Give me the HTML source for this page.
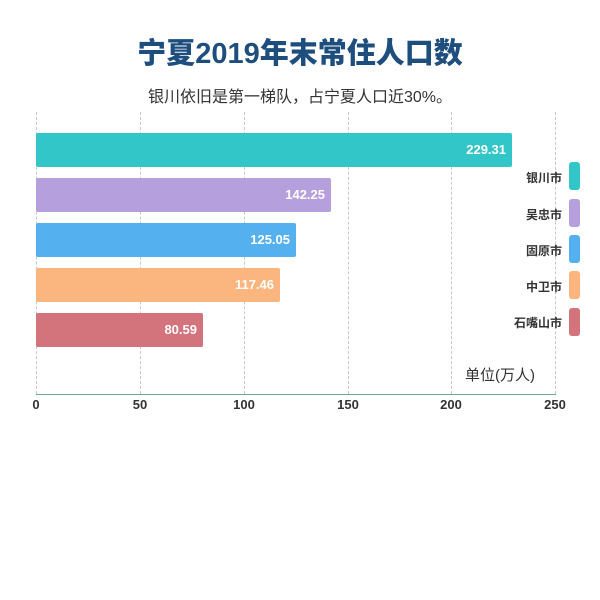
<!DOCTYPE html>
<html><head><meta charset="utf-8"><style>
body{margin:0;width:600px;height:600px;background:#fff;position:relative;overflow:hidden;font-family:"Liberation Sans","Noto Sans CJK SC",sans-serif}
.a{position:absolute}
.bar{position:absolute;left:36px;height:34px;border-radius:2px;color:#fff;font-weight:bold;font-size:13px;line-height:34px;text-align:right;box-sizing:border-box;padding-right:6px}
.grid{position:absolute;top:112px;height:282px;border-left:1px dashed #c8c8c8;width:0}
.tick{position:absolute;top:397px;font-size:13px;font-weight:bold;color:#333;width:40px;margin-left:-20px;text-align:center}
.lg{position:absolute;left:569px;width:11px;height:28px;border-radius:3px}
.lt{position:absolute;right:38px;font-size:12px;font-weight:bold;color:#333}
</style></head><body>
<div class="a" style="left:0;width:600px;top:30px;text-align:center;font-size:29px;font-weight:900;color:#1d4e7e;letter-spacing:0px">宁夏2019年末常住人口数</div>
<div class="a" style="left:0;width:600px;top:83px;text-align:center;font-size:16px;color:#333">银川依旧是第一梯队，占宁夏人口近30%。</div>
<div class="grid" style="left:36px"></div><div class="grid" style="left:140px"></div><div class="grid" style="left:244px"></div><div class="grid" style="left:348px"></div><div class="grid" style="left:451px"></div><div class="grid" style="left:555px"></div>
<div class="a" style="left:36px;width:520px;top:394px;height:1px;background:#6aa6a6"></div>
<div class="bar" style="top:133px;width:476px;background:#33c6c9">229.31</div>
<div class="bar" style="top:178px;width:295px;background:#b59fdc">142.25</div>
<div class="bar" style="top:223px;width:260px;background:#55b0ef">125.05</div>
<div class="bar" style="top:268px;width:244px;background:#fbb680">117.46</div>
<div class="bar" style="top:313px;width:167px;background:#d3737b">80.59</div>
<div class="tick" style="left:36px">0</div><div class="tick" style="left:140px">50</div><div class="tick" style="left:244px">100</div><div class="tick" style="left:348px">150</div><div class="tick" style="left:451px">200</div><div class="tick" style="left:555px">250</div>
<div class="a" style="left:465px;top:364px;font-size:15px;color:#333">单位(万人)</div>
<div class="lg" style="top:162px;background:#33c6c9"></div><div class="lt" style="top:169px">银川市</div>
<div class="lg" style="top:199px;background:#b59fdc"></div><div class="lt" style="top:206px">吴忠市</div>
<div class="lg" style="top:235px;background:#55b0ef"></div><div class="lt" style="top:242px">固原市</div>
<div class="lg" style="top:271px;background:#fbb680"></div><div class="lt" style="top:278px">中卫市</div>
<div class="lg" style="top:308px;background:#d3737b"></div><div class="lt" style="top:314px">石嘴山市</div>
</body></html>
